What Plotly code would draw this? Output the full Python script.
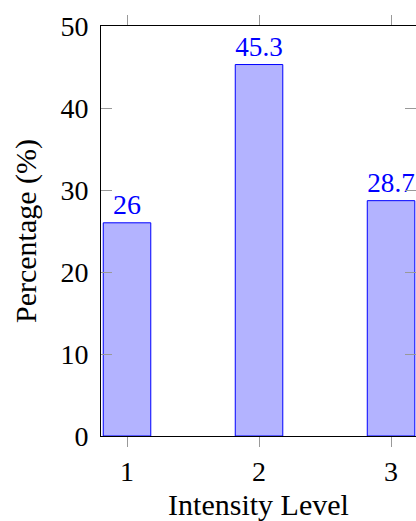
import plotly.graph_objects as go

levels = [1, 2, 3]
percentages = [26, 45.3, 28.7]
labels = ["26", "45.3", "28.7"]
y_ticks = [0, 10, 20, 30, 40, 50]

FONT = "Liberation Serif"

fig = go.Figure(
    go.Bar(
        x=levels,
        y=percentages,
        width=0.36,
        marker=dict(color="#b3b3ff", line=dict(color="#0000ff", width=1)),
        text=labels,
        textposition="outside",
        textfont=dict(family=FONT, size=28, color="#0000ff"),
        cliponaxis=False,
        hoverinfo="skip",
    )
)

fig.update_layout(
    width=416,
    height=521,
    margin=dict(l=101, r=0, t=26, b=85),
    paper_bgcolor="white",
    plot_bgcolor="white",
    showlegend=False,
    font=dict(family=FONT, size=28, color="black"),
)

fig.update_xaxes(
    range=[0.803, 3.189],
    tickvals=levels,
    ticktext=[str(v) for v in levels],
    ticks="outside",
    ticklen=10,
    tickcolor="#999999",
    showline=True,
    linecolor="black",
    linewidth=1,
    mirror="ticks",
    showgrid=False,
    zeroline=False,
    tickfont=dict(family=FONT, size=28),
    title=dict(text="Intensity Level", font=dict(family=FONT, size=30), standoff=9),
)

fig.update_yaxes(
    range=[0, 50],
    tickvals=y_ticks,
    ticks="inside",
    ticklen=11,
    tickcolor="#999999",
    showline=True,
    linecolor="black",
    linewidth=1,
    mirror="ticks",
    showgrid=False,
    zeroline=False,
    tickfont=dict(family=FONT, size=28),
    ticklabelstandoff=6,
    title=dict(text="Percentage (%)", font=dict(family=FONT, size=30), standoff=14),
)

fig.write_html(
    "out.html",
    config={"displayModeBar": False},
    post_script="document.body.style.margin='0';document.body.style.overflow='hidden';",
)
